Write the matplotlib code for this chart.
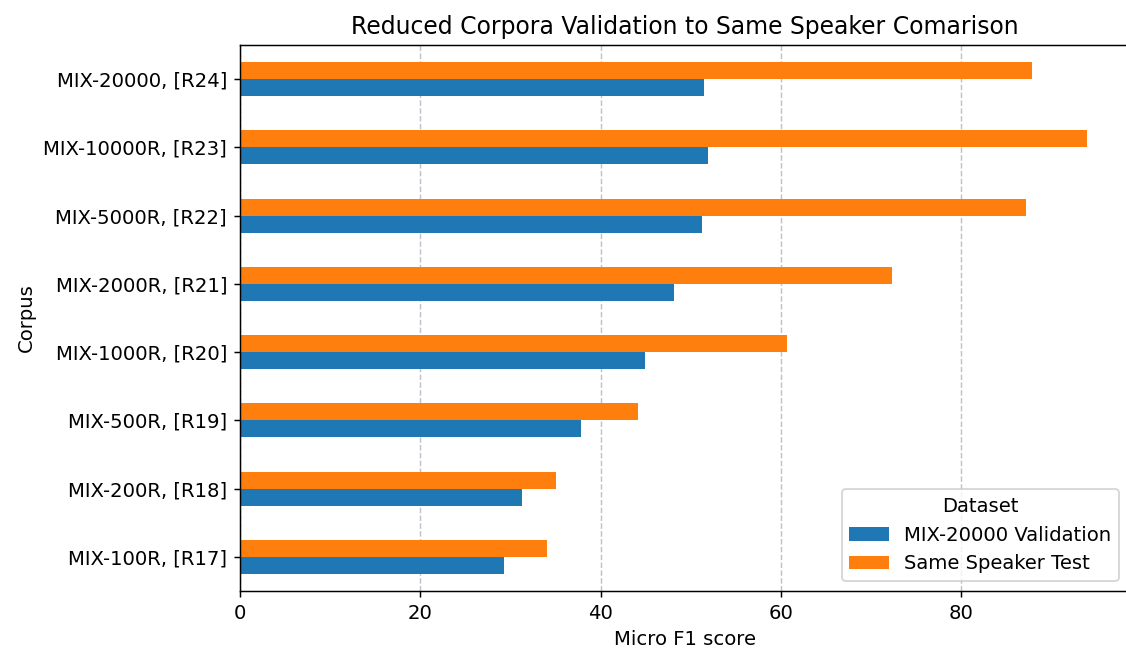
import matplotlib
matplotlib.use("Agg")
import matplotlib.pyplot as plt
import pandas as pd

corpora = ["MIX-100R, [R17]", "MIX-200R, [R18]", "MIX-500R, [R19]", "MIX-1000R, [R20]",
           "MIX-2000R, [R21]", "MIX-5000R, [R22]", "MIX-10000R, [R23]", "MIX-20000, [R24]"]
validation = [29.3, 31.3, 37.8, 44.9, 48.1, 51.2, 51.9, 51.5]
same_speaker = [34.1, 35.0, 44.1, 60.7, 72.3, 87.2, 93.9, 87.8]

plt.rcParams["font.size"] = 10.6

df = pd.DataFrame({"MIX-20000 Validation": validation,
                   "Same Speaker Test": same_speaker}, index=corpora)
df.index.name = "Corpus"
df.columns.name = "Dataset"

fig = plt.figure(figsize=(1126/133, 656/133), dpi=133)
ax = fig.add_axes([240/1126, 1 - 591/656, (1129-240)/1126, (591-45)/656])
df.plot.barh(ax=ax)
ax.set_title("Reduced Corpora Validation to Same Speaker Comarison")
ax.set_xlabel("Micro F1 score")
ax.set_ylabel("Corpus")
ax.grid(axis="x", linestyle="--", color="#b0b4c0", alpha=0.8)
ax.set_axisbelow(True)
ax.legend(title="Dataset", loc="lower right")
fig.savefig("out.png", dpi=133)
